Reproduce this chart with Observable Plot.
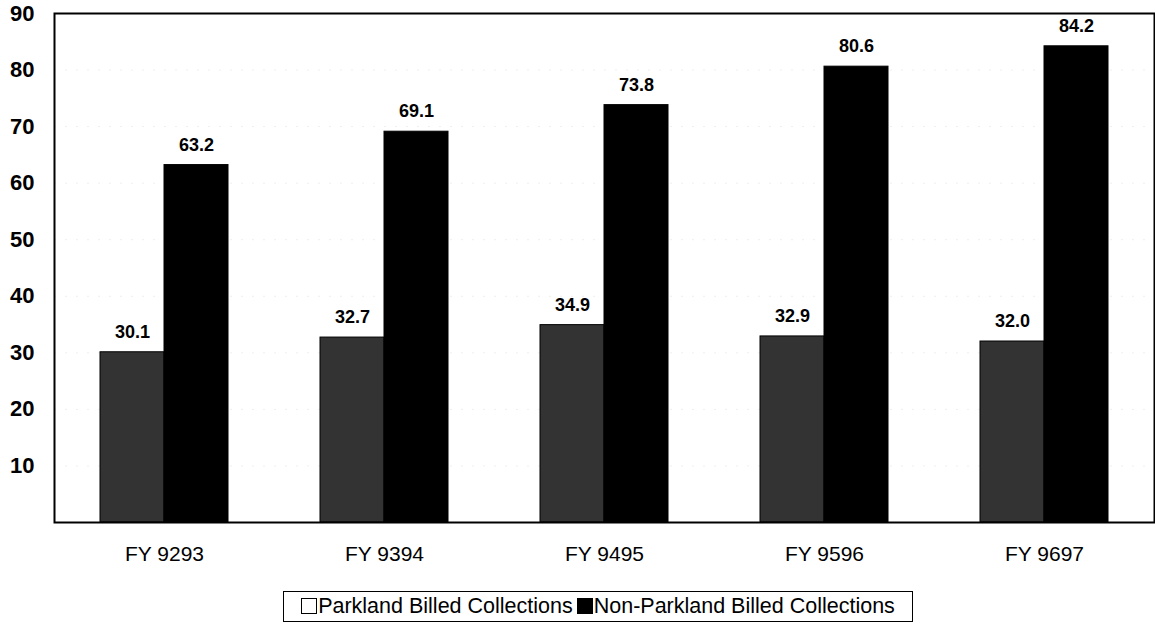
<!DOCTYPE html>
<html>
<head>
<meta charset="utf-8">
<script src="https://cdn.jsdelivr.net/npm/d3@7"></script>
<script src="https://cdn.jsdelivr.net/npm/@observablehq/plot@0.6"></script>
<style>
  body { margin: 0; background: #fff; font-family: "Liberation Sans", Arial, sans-serif; }
  #legend { position: absolute; left: 283px; top: 591px; width: 630px; height: 31px; border: 1.5px solid #000; box-sizing: border-box;
    display: flex; align-items: center; justify-content: center; font-size: 21.5px; gap: 4px; white-space: nowrap; }
  .sw { display: inline-block; width: 14px; height: 14px; border: 1px solid #000; margin-right: 1px; vertical-align: -1px; }
</style>
</head>
<body>
<div id="chart"></div>
<div id="legend">
  <span><span class="sw" style="background:#fff"></span>Parkland Billed Collections</span>
  <span><span class="sw" style="background:#000"></span>Non-Parkland Billed Collections</span>
</div>
<script>
const categories = ["FY 9293", "FY 9394", "FY 9495", "FY 9596", "FY 9697"];
const series = ["Parkland Billed Collections", "Non-Parkland Billed Collections"];
const parkland = [30.1, 32.7, 34.9, 32.9, 32.0];
const nonParkland = [63.2, 69.1, 73.8, 80.6, 84.2];
const yTicks = [10, 20, 30, 40, 50, 60, 70, 80, 90];

const data = [];
categories.forEach((c, i) => {
  data.push({cat: c, series: series[0], value: parkland[i]});
  data.push({cat: c, series: series[1], value: nonParkland[i]});
});

const chart = Plot.plot({
  width: 1155,
  height: 575,
  marginLeft: 53,
  marginRight: 1,
  marginTop: 13,
  marginBottom: 53,
  style: {fontFamily: "'Liberation Sans', Arial, sans-serif", background: "#fff"},
  fx: {domain: categories, padding: 0, label: null, axis: null},
  x: {domain: series, paddingInner: 0, paddingOuter: 0.7, axis: null},
  y: {domain: [0, 90], ticks: yTicks, label: null},
  color: {domain: series, range: ["#333333", "#000"]},
  marks: [
    Plot.gridY(yTicks.slice(0, 8), {stroke: "#666", strokeDasharray: "2,9", strokeWidth: 1}),
    Plot.barY(data, {fx: "cat", x: "series", y: "value", fill: "series", stroke: "#000", strokeWidth: 1}),
    Plot.text(data, {fx: "cat", x: "series", y: "value", text: d => d.value.toFixed(1), dy: -20, fontSize: 18, fontWeight: "bold", fill: "#000"}),
    Plot.axisY({ticks: yTicks, tickSize: 0, tickPadding: 20, fontSize: 22, fontWeight: "bold", label: null}),
    Plot.axisFx({domain: categories, anchor: "bottom", tickSize: 0, tickPadding: 24, fontSize: 21, label: null}),
    Plot.frame({stroke: "#000", strokeWidth: 2, facet: "super"})
  ]
});
document.getElementById("chart").appendChild(chart);
</script>
</body>
</html>
